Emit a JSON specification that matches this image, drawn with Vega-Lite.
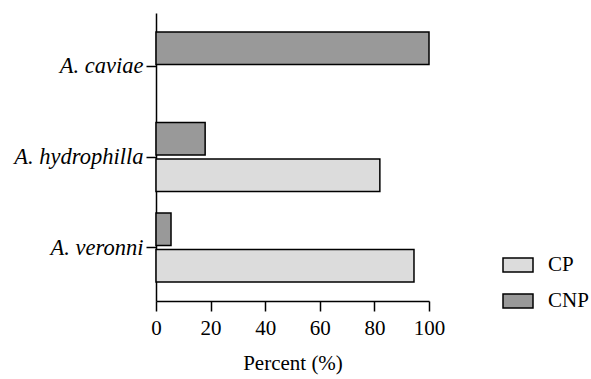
{
  "$schema": "https://vega.github.io/schema/vega-lite/v6.json",
  "autosize": "none",
  "width": 273,
  "height": 288,
  "padding": {"left": 156, "top": 13, "right": 162, "bottom": 78},
  "background": "white",
  "data": {
    "values": [
      {"species": "A. caviae", "group": "CNP", "percent": 100},
      {"species": "A. caviae", "group": "CP", "percent": 0},
      {"species": "A. hydrophilla", "group": "CNP", "percent": 18},
      {"species": "A. hydrophilla", "group": "CP", "percent": 82},
      {"species": "A. veronni", "group": "CNP", "percent": 5.5},
      {"species": "A. veronni", "group": "CP", "percent": 94.5}
    ]
  },
  "transform": [{"filter": "datum.percent > 0"}],
  "mark": {"type": "bar", "stroke": "black", "strokeWidth": 1.5},
  "encoding": {
    "y": {
      "field": "species",
      "type": "nominal",
      "sort": ["A. caviae", "A. hydrophilla", "A. veronni"],
      "scale": {"domain": ["A. caviae", "A. hydrophilla", "A. veronni"], "paddingInner": 0.238, "paddingOuter": 0.209},
      "axis": {
        "title": null,
        "labelFont": "Liberation Serif",
        "labelFontStyle": "italic",
        "labelFontSize": 22.5,
        "labelColor": "black",
        "labelPadding": 3,
        "tickSize": 10,
        "tickColor": "black",
        "tickWidth": 1.5,
        "domainColor": "black",
        "domainWidth": 1.5
      }
    },
    "yOffset": {
      "field": "group",
      "type": "nominal",
      "scale": {"domain": ["CNP", "CP"], "paddingInner": 0.11, "paddingOuter": 0}
    },
    "x": {
      "field": "percent",
      "type": "quantitative",
      "scale": {"domain": [0, 100], "nice": false},
      "axis": {
        "title": "Percent (%)",
        "values": [0, 20, 40, 60, 80, 100],
        "grid": false,
        "labelFont": "Liberation Serif",
        "labelFontSize": 21,
        "labelColor": "black",
        "labelPadding": 6,
        "labelFlush": false,
        "tickSize": 10,
        "tickColor": "black",
        "tickWidth": 1.5,
        "domainColor": "black",
        "domainWidth": 1.5,
        "titleFont": "Liberation Serif",
        "titleFontSize": 21,
        "titleFontWeight": "normal",
        "titleColor": "black",
        "titlePadding": 14
      }
    },
    "fill": {
      "field": "group",
      "type": "nominal",
      "scale": {"domain": ["CP", "CNP"], "range": ["#dcdcdc", "#999999"]},
      "legend": {
        "title": null,
        "orient": "none",
        "legendX": 346,
        "legendY": 236,
        "symbolType": "M-1,-0.47H1V0.47H-1Z",
        "symbolSize": 900,
        "symbolStrokeColor": "black",
        "symbolStrokeWidth": 1.5,
        "symbolOpacity": 1,
        "labelFont": "Liberation Serif",
        "labelFontSize": 21,
        "labelColor": "black",
        "labelOffset": 14,
        "rowPadding": 9
      }
    }
  },
  "config": {"view": {"stroke": null}}
}
